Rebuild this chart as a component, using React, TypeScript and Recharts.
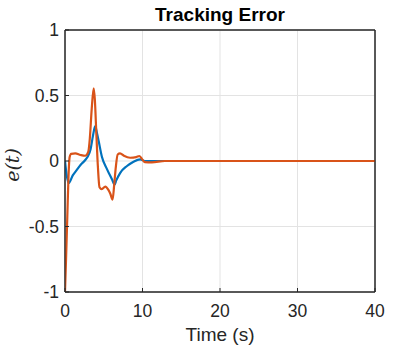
import React from 'react';
import { LineChart, Line, XAxis, YAxis, CartesianGrid, ReferenceArea } from 'recharts';

const blueTime = [0, 0.2, 0.47, 1.0, 1.5, 2.0, 2.5, 2.9, 3.3, 3.6, 3.9, 4.1, 4.35, 4.77, 5.4, 6.06, 6.4, 6.6, 7.13, 8.0, 8.84, 9.7, 10.3, 11, 40];
const blueErr = [0, -0.1, -0.17, -0.11, -0.07, -0.03, 0.0, 0.03, 0.09, 0.19, 0.266, 0.22, 0.15, 0.03, -0.06, -0.14, -0.18, -0.15, -0.09, -0.038, -0.005, 0.013, 0, 0, 0];

const orangeTime = [0, 0.15, 0.3, 0.45, 0.6, 0.8, 1.33, 2.0, 2.6, 3.0, 3.2, 3.45, 3.7, 3.85, 4.05, 4.25, 4.45, 4.75, 5.2, 5.6, 5.85, 6.14, 6.35, 6.55, 6.8, 7.1, 7.6, 8.4, 9.2, 9.6, 10.0, 10.3, 11.2, 12.9, 40];
const orangeErr = [-1, -0.72, -0.42, -0.12, 0.03, 0.055, 0.058, 0.046, 0.04, 0.07, 0.17, 0.4, 0.555, 0.47, 0.2, -0.05, -0.2, -0.215, -0.195, -0.22, -0.25, -0.295, -0.18, -0.05, 0.05, 0.058, 0.04, 0.025, 0.03, 0.038, 0.01, -0.008, -0.01, 0, 0];

const xTicks = [0, 10, 20, 30, 40];
const yTicks = [-1, -0.5, 0, 0.5, 1];

const blueData = blueTime.map((t, i) => ({ t, e: blueErr[i] }));
const orangeData = orangeTime.map((t, i) => ({ t, e: orangeErr[i] }));

const FONT = '"Liberation Sans", Arial, Helvetica, sans-serif';
const AX = '#262626';

export default function App() {
  return (
    <div style={{ position: 'absolute', left: 0, top: 0, width: 415, height: 346, background: '#fff' }}>
      <LineChart width={415} height={346} margin={{ top: 29, right: 39, bottom: 24, left: 0 }}>
        <CartesianGrid xAxisId="b" yAxisId="l" stroke="#e3e3e3" strokeWidth={1} />
        <XAxis
          xAxisId="b"
          type="number"
          dataKey="t"
          domain={[0, 40]}
          ticks={xTicks}
          allowDataOverflow
          height={30}
          stroke={AX}
          tickSize={-4}
          tickMargin={17}
          tick={{ fill: AX, fontSize: 17.5, fontFamily: FONT }}
        />
        <XAxis xAxisId="t" orientation="top" type="number" domain={[0, 40]} ticks={xTicks} stroke={AX} tick={false} tickSize={-4} height={1} />
        <YAxis
          yAxisId="l"
          type="number"
          domain={[-1, 1]}
          ticks={yTicks}
          allowDataOverflow
          width={65}
          stroke={AX}
          tickSize={-4}
          tickMargin={10}
          tick={{ fill: AX, fontSize: 17.5, fontFamily: FONT }}
        />
        <YAxis yAxisId="r" orientation="right" type="number" domain={[-1, 1]} ticks={yTicks} stroke={AX} tick={false} tickSize={-4} width={1} />
        <ReferenceArea xAxisId="b" yAxisId="l" x1={0} x2={40} y1={-1} y2={1} fill="none" stroke={AX} strokeWidth={1} ifOverflow="visible" />
        <Line xAxisId="b" yAxisId="l" data={blueData} dataKey="e" type="monotone" stroke="#0072BD" strokeWidth={2.2} dot={false} isAnimationActive={false} />
        <Line xAxisId="b" yAxisId="l" data={orangeData} dataKey="e" type="monotone" stroke="#D95319" strokeWidth={2.2} dot={false} isAnimationActive={false} />
        <text x={220} y={21} textAnchor="middle" fontFamily={FONT} fontWeight="bold" fontSize={19} fill="#000">Tracking Error</text>
        <text x={220} y={341} textAnchor="middle" fontFamily={FONT} fontSize={19} fill={AX}>Time (s)</text>
        <text x={19} y={165} transform="rotate(-90 19 165)" textAnchor="middle" fontFamily={'"DejaVu Serif", "Liberation Serif", serif'} fontStyle="italic" fontSize={19} fill={AX}>e(t)</text>
      </LineChart>
    </div>
  );
}
